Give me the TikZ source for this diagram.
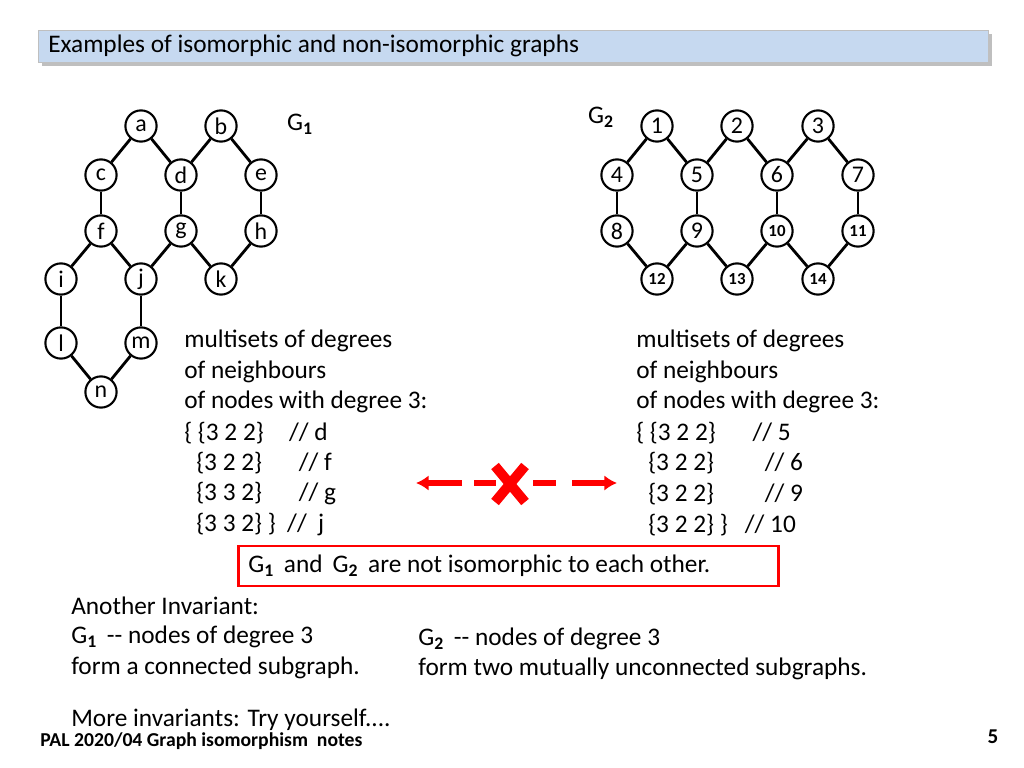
\documentclass[tikz,border=0pt]{standalone}
\usepackage{fontspec}
\setmainfont{Carlito}
\usetikzlibrary{positioning, shadows, arrows.meta}
\definecolor{titleblue}{RGB}{198,217,240}

\begin{document}
\begin{tikzpicture}[
    x=0.025cm, y=-0.025cm,
    vert/.style={draw, circle, line width=1.5pt, minimum size=0.78cm, inner sep=0pt, font=\fontsize{17}{17}\selectfont},
    bigvert/.style={vert, font=\bfseries\fontsize{12}{12}\selectfont},
    edge/.style={line width=2pt},
    txt/.style={anchor=west, inner sep=0pt, font=\fontsize{18}{18}\selectfont},
    redarrow/.style={-{Latex[length=9pt,width=11pt]}, red, line width=4pt}
]
\useasboundingbox (0,0) rectangle (1024,768);

% Title
\node[draw=gray!50, fill=titleblue, drop shadow, minimum width=23.75cm, minimum height=0.8cm, anchor=north west, inner sep=0pt] (title) at (38,30) {};
\node[anchor=west, inner sep=0pt, font=\fontsize{18}{18}\selectfont] at (48,46) {Examples of isomorphic and non-isomorphic graphs};

% G1
\foreach \n/\x/\y in {a/141/126, b/221/126, c/101/175, d/181/175, e/261/175, f/101/231, g/181/231, h/261/231, i/61/279, j/141/279, k/221/279, l/61/343, m/141/343, n/101/392}
  \node[vert] (\n) at (\x,\y) {\n};
\foreach \s/\t in {a/c, a/d, b/d, b/e, c/f, d/g, e/h, f/i, f/j, g/j, g/k, h/k, i/l, j/m, l/n, m/n}
  \draw[edge] (\s) -- (\t);
\node[font=\fontsize{18}{18}\selectfont] (lab1) at (300,124) {G\textsubscript{\textbf{1}}};

% G2
\foreach \n/\x/\y in {1/657/126, 2/737/126, 3/818/126, 4/617/175, 5/697/175, 6/777/175, 7/858/175, 8/617/231, 9/697/231}
  \node[vert] (v\n) at (\x,\y) {\n};
\foreach \n/\x/\y in {10/777/231, 11/858/231, 12/657/279, 13/737/279, 14/818/279}
  \node[bigvert] (v\n) at (\x,\y) {\n};
\foreach \s/\t in {1/4, 1/5, 2/5, 2/6, 3/6, 3/7, 4/8, 5/9, 6/10, 7/11, 8/12, 9/12, 9/13, 10/13, 10/14, 11/14}
  \draw[edge] (v\s) -- (v\t);
\node[font=\fontsize{18}{18}\selectfont] (lab2) at (601,117) {G\textsubscript{\textbf{2}}};

% Multisets
\node[txt] (ml1) at (184,341) {multisets of degrees};
\node[txt] (ml2) at (184,372) {of neighbours};
\node[txt] (ml3) at (184,402) {of nodes with degree 3:};
\node[txt] (ml4) at (184,433) {\{ \{3 2 2\}\quad // d};
\node[txt] (ml5) at (196,463) {\{3 2 2\}\quad\ \ // f};
\node[txt] (ml6) at (196,494) {\{3 3 2\}\quad\ \ // g};
\node[txt] (ml7) at (196,525) {\{3 3 2\} \}\ \ // \ j};

\node[txt] (mr1) at (636,341) {multisets of degrees};
\node[txt] (mr2) at (636,372) {of neighbours};
\node[txt] (mr3) at (636,402) {of nodes with degree 3:};
\node[txt] (mr4) at (636,433) {\{ \{3 2 2\}\quad\ \ // 5};
\node[txt] (mr5) at (648,463) {\{3 2 2\}\qquad // 6};
\node[txt] (mr6) at (648,494) {\{3 2 2\}\qquad // 9};
\node[txt] (mr7) at (648,525) {\{3 2 2\} \}\ \ \ // 10};

% Arrows
\coordinate (al) at (416,483);
\coordinate (ar) at (617,483);
\coordinate (cross) at (510,484);
\draw[redarrow] (462,483) -- (al);
\draw[red, line width=4pt] (474,483) -- (496,483);
\draw[red, line width=4pt] (533,483) -- (556,483);
\draw[redarrow] (572,483) -- (ar);
\draw[red, line width=7pt] ([shift={(-15,-18)}]cross) -- ([shift={(15,18)}]cross)
  ([shift={(15,-18)}]cross) -- ([shift={(-15,18)}]cross);

% Conclusion
\node[draw=red, line width=1.8pt, minimum width=13.5cm, minimum height=1cm, anchor=west, inner sep=0pt] (concl) at (237,566) {};
\node[txt] (concltxt) at (248,566) {G\textsubscript{\textbf{1}}\, and\, G\textsubscript{\textbf{2}}\, are not isomorphic to each other.};

% Invariants
\node[txt] (inv1) at (71,606) {Another Invariant:};
\node[txt] (inv2) at (71,637) {G\textsubscript{\textbf{1}}\, {-}{-} nodes of degree 3};
\node[txt] (inv3) at (71,668) {form a connected subgraph.};
\node[txt] (inv4) at (418,639) {G\textsubscript{\textbf{2}}\, {-}{-} nodes of degree 3};
\node[txt] (inv5) at (418,669) {form two mutually unconnected subgraphs.};
\node[txt] (more) at (71,720) {More invariants: Try yourself....};

% Footer
\node[anchor=west, inner sep=0pt, font=\bfseries\fontsize{14}{14}\selectfont] (foot) at (40,741) {PAL 2020/04 Graph isomorphism\ \ notes};
\node[font=\bfseries\fontsize{15}{15}\selectfont] (page) at (993,737) {5};
\end{tikzpicture}
\end{document}
